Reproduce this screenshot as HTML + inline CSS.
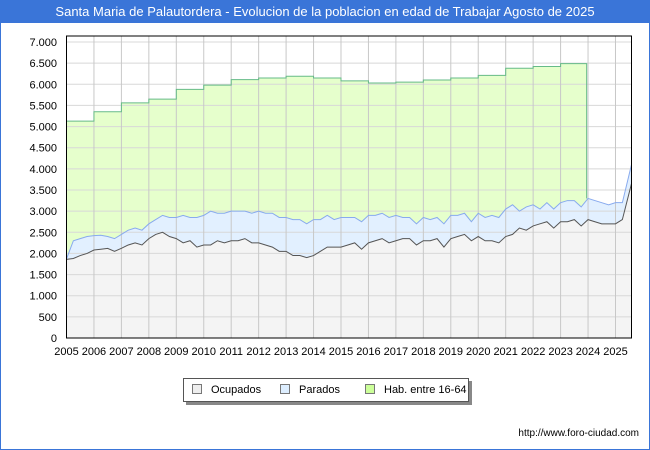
<!DOCTYPE html>
<html><head><meta charset="utf-8"><style>
body{margin:0;background:#fff;font-family:"Liberation Sans","DejaVu Sans",sans-serif}
#wrap{position:relative;width:648px;height:448px;border:1px solid #3a75d8;overflow:hidden}
#title{position:absolute;left:0;top:0;width:648px;height:22px;background:#3a75d8;color:#fff;font-size:13px;text-align:center;line-height:22px}
#legend{position:absolute;left:182px;top:377px;width:284px;height:22px;border:1px solid #555;background:#fff;box-shadow:3px 3px 0 #888;font-size:11px;line-height:22px}
.lg{position:absolute;top:0}
.sw{display:inline-block;width:8px;height:8px;border:1px solid #777;margin-right:9px;vertical-align:-1px}
#url{position:absolute;right:10px;top:427px;font-size:10px;color:#000}
</style></head><body>
<div id="wrap">
<div id="title">Santa Maria de Palautordera - Evolucion de la poblacion en edad de Trabajar Agosto de 2025</div>
<svg id="chart" width="648" height="448" style="position:absolute;left:0;top:0"></svg>
<div id="legend">
<span class="lg" style="left:8px"><span class="sw" style="background:#eee"></span>Ocupados</span>
<span class="lg" style="left:96px"><span class="sw" style="background:#ddeeff"></span>Parados</span>
<span class="lg" style="left:181px"><span class="sw" style="background:#ccff99"></span>Hab. entre 16-64</span>
</div>
<div id="url">http://www.foro-ciudad.com</div>
</div>
<script>
const years=[2005,2006,2007,2008,2009,2010,2011,2012,2013,2014,2015,2016,2017,2018,2019,2020,2021,2022,2023,2024,2025];
const yTicks=[0,500,1000,1500,2000,2500,3000,3500,4000,4500,5000,5500,6000,6500,7000];
const habValues=[5130,5350,5560,5650,5880,5980,6110,6150,6190,6150,6080,6030,6050,6100,6150,6210,6380,6420,6490];
const paradosTop=[1870,2300,2350,2400, 2420,2430,2400,2350, 2450,2550,2600,2550, 2700,2800,2900,2850, 2850,2900,2850,2850, 2900,3000,2950,2950, 3000,3000,3000,2950, 3000,2950,2950,2850, 2850,2800,2800,2700, 2800,2800,2900,2800, 2850,2850,2850,2750, 2900,2900,2950,2850, 2900,2850,2850,2700, 2850,2800,2850,2700, 2900,2900,2950,2750, 2950,2850,2900,2850, 3050,3150,3000,3100, 3150,3050,3200,3050, 3200,3250,3250,3100, 3300,3250,3200,3150, 3200,3200,4100];
const ocupados=[1860,1880,1950,2000, 2080,2100,2120,2050, 2120,2200,2250,2200, 2350,2450,2500,2400, 2350,2250,2300,2150, 2200,2200,2300,2250, 2300,2300,2350,2250, 2250,2200,2150,2050, 2050,1950,1950,1900, 1950,2050,2150,2150, 2150,2200,2250,2100, 2250,2300,2350,2250, 2300,2350,2350,2200, 2300,2300,2350,2150, 2350,2400,2450,2300, 2400,2300,2300,2250, 2400,2450,2600,2550, 2650,2700,2750,2600, 2750,2750,2800,2650, 2800,2750,2700,2700, 2700,2800,3650];
const habEnd=2023.95, tEnd=2025+7/12;
const L=65.5,R=630.5,T=35,B=337;
const X=t=>L+(t-2005)*(R-L)/(tEnd-2005);
const Y=v=>B-v*(B-41)/7000;
const tOf=(i,n)=>i===n-1?tEnd:2005+i/4;
const svg=document.getElementById('chart');const NS='http://www.w3.org/2000/svg';
function add(tag,a,name){const e=document.createElementNS(NS,tag);for(const k in a)e.setAttribute(k,a[k]);


svg.appendChild(e);return e;}
let d=`M${X(2005)},${Y(0)}`;
habValues.forEach((v,i)=>{const t1=Math.min(years[i]+1,habEnd);d+=` L${X(years[i])},${Y(v)} L${X(t1)},${Y(v)}`;});
let hl=d.replace(/^M[^L]*L/,'M');
const lastP=paradosTop[Math.round((habEnd-2005)*4)];
d+=` L${X(habEnd)},${Y(lastP)} L${X(habEnd)},${Y(0)} Z`;
add('path',{d,fill:'#e6ffcc',stroke:'none'},'hab-area');
function series(arr){return arr.map((v,i)=>`${X(tOf(i,arr.length))},${Y(v)}`);}
const pp=series(paradosTop),op=series(ocupados);
add('path',{d:`M${X(2005)},${Y(0)} L${pp.join(' L')} L${X(tEnd)},${Y(0)} Z`,fill:'#e2f0ff'},'parados-area');
add('path',{d:`M${X(2005)},${Y(0)} L${op.join(' L')} L${X(tEnd)},${Y(0)} Z`,fill:'#f4f4f4'},'ocupados-area');
yTicks.forEach(v=>{add('line',{x1:L,x2:R,y1:Y(v),y2:Y(v),stroke:'#d8d8d8','stroke-width':1},'y-gridline');
const t=add('text',{x:56,y:Y(v)+4,'text-anchor':'end','font-size':11,fill:'#000'},'y-tick-label');t.textContent=v.toLocaleString('de-DE');});
years.forEach(y=>{add('line',{x1:X(y),x2:X(y),y1:T,y2:B,stroke:'#c8c8c8','stroke-width':1},'x-gridline');
const t=add('text',{x:X(y),y:354,'text-anchor':'middle','font-size':11,fill:'#000'},'x-tick-label');t.textContent=y;});
add('path',{d:hl+` L${X(habEnd)},${Y(lastP)}`,fill:'none',stroke:'#66bb88','stroke-width':1},'hab-line');
add('polyline',{points:pp.join(' '),fill:'none',stroke:'#88aaee','stroke-width':1},'parados-line');
add('polyline',{points:op.join(' '),fill:'none',stroke:'#555','stroke-width':1},'ocupados-line');
add('rect',{x:L,y:T,width:R-L,height:B-T,fill:'none',stroke:'#000','stroke-width':1},'plot-frame');
</script>
</body></html>
